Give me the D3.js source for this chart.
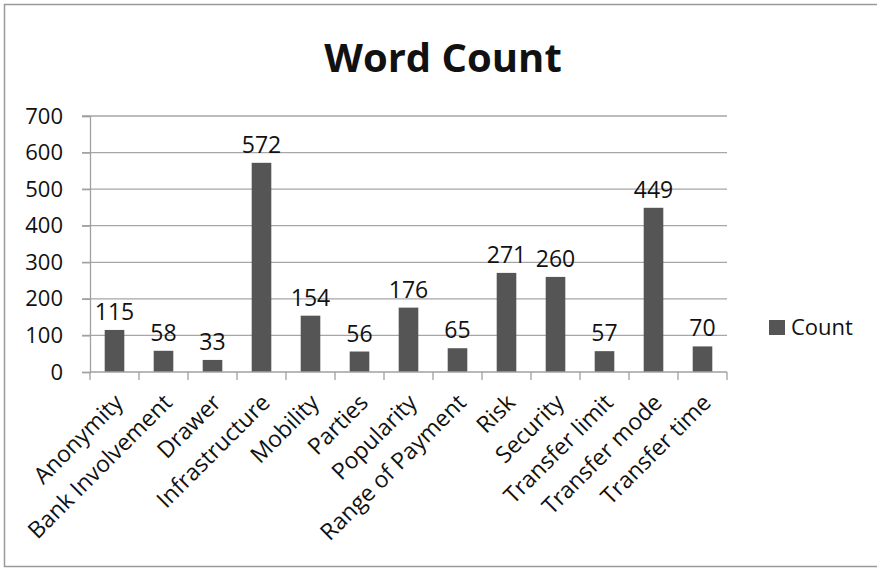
<!DOCTYPE html>
<html>
<head>
<meta charset="utf-8">
<script src="https://cdn.jsdelivr.net/npm/d3@7"></script>
<style>
  html, body { margin: 0; padding: 0; background: #fff; }
  svg text { font-family: "Open Sans", "DejaVu Sans", sans-serif; fill: #111; }
</style>
</head>
<body>
<div id="chart"></div>
<script>
// chart data
var categories = ['Anonymity', 'Bank Involvement', 'Drawer', 'Infrastructure', 'Mobility', 'Parties',
  'Popularity', 'Range of Payment', 'Risk', 'Security', 'Transfer limit', 'Transfer mode', 'Transfer time'];
var counts = [115, 58, 33, 572, 154, 56, 176, 65, 271, 260, 57, 449, 70];
var yTicks = [0, 100, 200, 300, 400, 500, 600, 700];
var seriesName = 'Count';
var chartTitle = 'Word Count';

var W = 877, H = 568;
var barColor = '#555555', gridColor = '#a6a6a6', axisColor = '#a0a0a0';

var plot = { left: 90, right: 727, top: 116, bottom: 372 };

var svg = d3.select('#chart').append('svg')
  .attr('width', W)
  .attr('height', H);

// outer frame
svg.append('rect')
  .attr('x', 4.5).attr('y', 4.5)
  .attr('width', W + 10).attr('height', 562)
  .style('fill', 'none')
  .style('stroke', '#9a9a9a')
  .style('stroke-width', 1.5);

// title
svg.append('text')
  .attr('x', 443)
  .attr('y', 72)
  .attr('text-anchor', 'middle')
  .attr('font-size', 40)
  .attr('font-weight', 'bold')
  .text(chartTitle);

var x = d3.scaleBand()
  .domain(categories)
  .range([plot.left, plot.right])
  .paddingInner(0.6)
  .paddingOuter(0.3);

var y = d3.scaleLinear()
  .domain([0, 700])
  .range([plot.bottom, plot.top]);

// horizontal gridlines
svg.append('g')
  .selectAll('line')
  .data(yTicks.filter(function(d){ return d > 0; }))
  .enter().append('line')
  .attr('x1', plot.left - 8)
  .attr('x2', plot.right)
  .attr('y1', function(d){ return y(d); })
  .attr('y2', function(d){ return y(d); })
  .style('stroke', gridColor)
  .style('stroke-width', 1.3);

// y axis
var yAxis = svg.append('g')
  .attr('transform', 'translate(' + plot.left + ',0)')
  .call(d3.axisLeft(y).tickValues(yTicks).tickSize(8).tickPadding(19));
yAxis.select('.domain').style('stroke', axisColor).style('stroke-width', 1.3);
yAxis.selectAll('.tick line').style('stroke', axisColor).style('stroke-width', 1.3);
yAxis.selectAll('.tick text').attr('font-size', 22).style('font-family', '"Open Sans", sans-serif').style('fill', '#111');

// bars
svg.append('g')
  .selectAll('rect')
  .data(counts)
  .enter().append('rect')
  .attr('x', function(d, i){ return x(categories[i]); })
  .attr('y', function(d){ return y(d); })
  .attr('width', x.bandwidth())
  .attr('height', function(d){ return y(0) - y(d); })
  .style('fill', barColor);

// data labels
svg.append('g')
  .selectAll('text')
  .data(counts)
  .enter().append('text')
  .attr('x', function(d, i){ return x(categories[i]) + x.bandwidth() / 2; })
  .attr('y', function(d){ return y(d) - 10; })
  .attr('text-anchor', 'middle')
  .attr('font-size', 23)
  .text(function(d){ return d; });

// x axis
var xEdges = d3.range(categories.length + 1).map(function(i){ return plot.left + i * (plot.right - plot.left) / categories.length; });
svg.append('line')
  .attr('x1', plot.left).attr('x2', plot.right)
  .attr('y1', y(0)).attr('y2', y(0))
  .style('stroke', axisColor).style('stroke-width', 1.3);
svg.append('g')
  .selectAll('line')
  .data(xEdges)
  .enter().append('line')
  .attr('x1', function(d){ return d; }).attr('x2', function(d){ return d; })
  .attr('y1', y(0)).attr('y2', y(0) + 8)
  .style('stroke', axisColor).style('stroke-width', 1.3);

// rotated category labels
svg.append('g')
  .selectAll('text')
  .data(categories)
  .enter().append('text')
  .attr('transform', function(d){
    var cx = x(d) + x.bandwidth() / 2 + 10;
    return 'translate(' + cx + ',' + (y(0) + 32) + ') rotate(-45)';
  })
  .attr('text-anchor', 'end')
  .attr('font-size', 23)
  .text(function(d){ return d; });

// legend
var legend = svg.append('g').attr('transform', 'translate(769,320)');
legend.append('rect')
  .attr('width', 16).attr('height', 15)
  .style('fill', barColor);
legend.append('text')
  .attr('x', 22).attr('y', 15)
  .attr('font-size', 22)
  .text(seriesName);
</script>
</body>
</html>
